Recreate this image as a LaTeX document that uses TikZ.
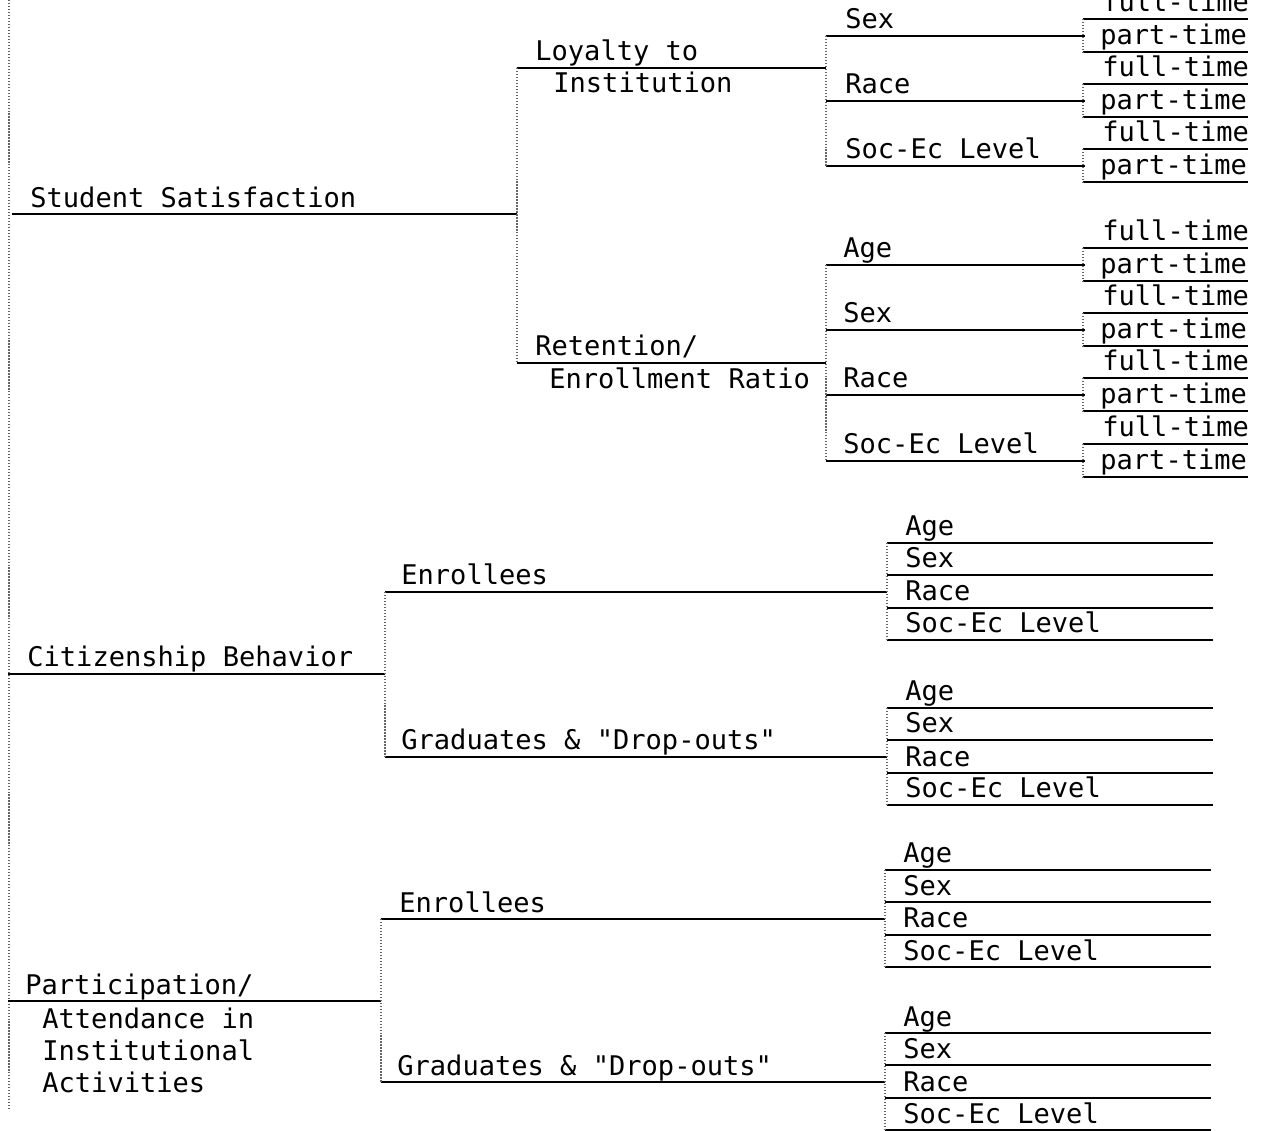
\documentclass[tikz,border=0pt]{standalone}
\usepackage{fontspec}
\setmonofont{DejaVu Sans Mono}

\begin{document}
\begin{tikzpicture}[x=0.02cm, y=-0.02cm]
  \tikzset{
    lab/.style={anchor=base west, inner sep=0pt, font=\ttfamily\fontsize{15.4}{18}\selectfont},
    bar/.style={line width=1pt},
    tie/.style={densely dotted, line width=0.7pt, black!60}
  }

  % Bounding box of the scanned sheet
  \useasboundingbox (0,0) rectangle (1262,1131);

  % Left spine
  \coordinate (top) at (9,0);
  \coordinate (bot) at (9,1110);
  \draw[tie] (top) -- (bot);

  % Roots
  \coordinate (ss0) at (12,214);
  \coordinate (ss1) at (517,214);
  \node[lab] (ss) at (30,208) {Student Satisfaction};
  \draw[bar] (ss0) -- (ss1);

  \coordinate (cb0) at (8,674);
  \coordinate (cb1) at (385,674);
  \node[lab] (cb) at (27,667) {Citizenship Behavior};
  \draw[bar] (cb0) -- (cb1);

  \coordinate (pa0) at (8,1001);
  \coordinate (pa1) at (381,1001);
  \node[lab] (pa) at (25,994) {Participation/};
  \node[lab] (pa2) at (42,1028) {Attendance in};
  \node[lab] (pa3) at (42,1060) {Institutional};
  \node[lab] (pa4) at (42,1092) {Activities};
  \draw[bar] (pa0) -- (pa1);

  % Student Satisfaction branches
  \coordinate (ly0) at (517,68);
  \coordinate (ly1) at (826,68);
  \node[lab] (ly) at (535,61) {Loyalty to};
  \node[lab] (ly2) at (553,93) {Institution};
  \draw[bar] (ly0) -- (ly1);

  \coordinate (rt0) at (517,363);
  \coordinate (rt1) at (826,363);
  \node[lab] (rt) at (535,356) {Retention/};
  \node[lab] (rt2) at (549,389) {Enrollment Ratio};
  \draw[bar] (rt0) -- (rt1);
  \draw[tie] (ly0) -- (rt0);

  % Sex, Race, ... with full-time / part-time
  \foreach \n/\x/\y/\t in {ls/845/36/Sex, lr/845/101/Race, le/845/166/Soc-Ec Level,
                           ra/843/265/Age, rs/843/330/Sex, rr/843/395/Race, re/843/461/Soc-Ec Level} {
    \coordinate (\n0) at (826,\y);
    \coordinate (\n1) at (1085,\y);
    \node[lab] (\n) at (\x,\y-7) {\t};
    \draw[bar] (\n0) -- (\n1);
    \coordinate (\n-f) at (1083,\y-17);
    \coordinate (\n-fe) at (1248,\y-17);
    \coordinate (\n-p) at (1083,\y+16);
    \coordinate (\n-pe) at (1248,\y+16);
    \node[lab] (\n-ft) at (1102,\y-24) {full-time};
    \node[lab] (\n-pt) at (1100,\y+9) {part-time};
    \draw[bar] (\n-f) -- (\n-fe);
    \draw[bar] (\n-p) -- (\n-pe);
    \draw[tie] (\n-f) -- (\n-p);
  }
  \draw[tie] (ls0) -- (le0);
  \draw[tie] (ra0) -- (re0);

  % Citizenship Behavior branches
  \coordinate (ce0) at (385,592);
  \coordinate (ce1) at (887,592);
  \node[lab] (ce) at (401,585) {Enrollees};
  \draw[bar] (ce0) -- (ce1);

  \coordinate (cg0) at (385,757);
  \coordinate (cg1) at (887,757);
  \node[lab] (cg) at (401,750) {Graduates \& "Drop-outs"};
  \draw[bar] (cg0) -- (cg1);
  \draw[tie] (ce0) -- (cg0);

  % Participation branches
  \coordinate (pe0) at (381,919);
  \coordinate (pe1) at (885,919);
  \node[lab] (pe) at (399,912) {Enrollees};
  \draw[bar] (pe0) -- (pe1);

  \coordinate (pg0) at (381,1082);
  \coordinate (pg1) at (885,1082);
  \node[lab] (pg) at (397,1075) {Graduates \& "Drop-outs"};
  \draw[bar] (pg0) -- (pg1);
  \draw[tie] (pe0) -- (pg0);

  % Age / Sex / Race / Soc-Ec leaves
  \foreach \g/\x/\y in {ce/887/592, cg/887/757, pe/885/919, pg/885/1082} {
    \foreach \k/\dy/\t in {1/-49/Age, 2/-17/Sex, 3/16/Race, 4/48/Soc-Ec Level} {
      \coordinate (\g\k a) at (\x,\y+\dy);
      \coordinate (\g\k b) at (\x+326,\y+\dy);
      \node[lab] (\g\k) at (\x+18,\y+\dy-7) {\t};
      \draw[bar] (\g\k a) -- (\g\k b);
    }
    \draw[tie] (\g1a) -- (\g4a);
  }
\end{tikzpicture}
\end{document}
